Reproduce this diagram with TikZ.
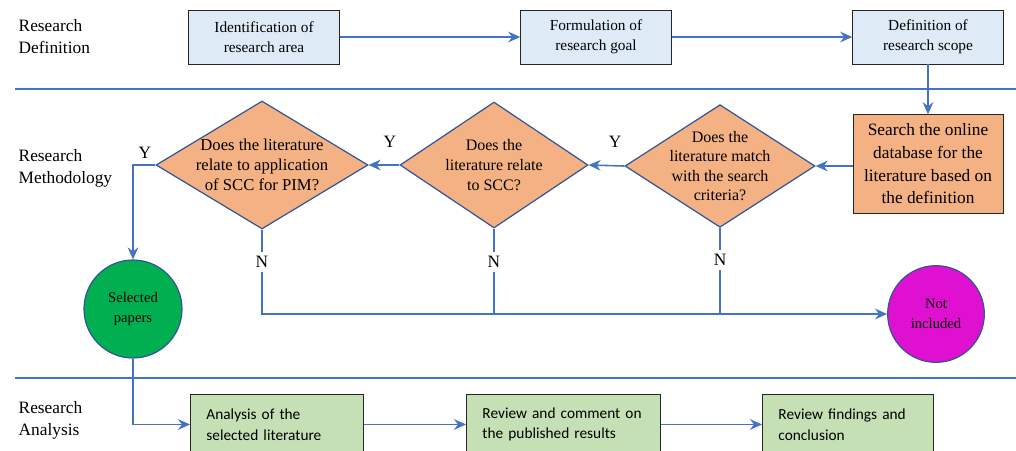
\documentclass[tikz,border=0pt]{standalone}
\usepackage{fontspec}
\setmainfont{Liberation Serif}
\newfontfamily\boxfont{Carlito}
\usetikzlibrary{arrows.meta,shapes.geometric}
\definecolor{defblue}{RGB}{222,235,247}
\definecolor{queryorange}{RGB}{244,177,131}
\definecolor{anagreen}{RGB}{197,224,180}
\definecolor{linkblue}{RGB}{68,114,196}
\definecolor{rimblue}{RGB}{47,85,151}
\definecolor{keepgreen}{RGB}{0,176,80}
\definecolor{dropmagenta}{RGB}{224,16,208}
\begin{document}
\begin{tikzpicture}[x=0.75pt,y=-0.75pt,
    defbox/.style={draw=black!85,fill=defblue,line width=0.7pt,minimum width=113pt,minimum height=40.5pt,align=center,font=\fontsize{11.5}{15}\selectfont},
    anabox/.style={draw=black!85,fill=anagreen,line width=0.7pt,minimum height=45pt,inner xsep=12pt,align=left,font=\boxfont\fontsize{11.5}{15.5}\selectfont},
    query/.style={diamond,draw=rimblue,line width=0.9pt,fill=queryorange,inner sep=0pt},
    endcircle/.style={circle,draw=rimblue,line width=0.9pt,inner sep=0pt,align=center,font=\fontsize{11}{15}\selectfont},
    lane/.style={align=left,font=\fontsize{13}{16.5}\selectfont},
    yn/.style={font=\fontsize{13}{15}\selectfont,inner sep=3pt},
    link/.style={draw=linkblue,line width=1.2pt,-{Stealth[length=9pt,width=8pt,inset=3pt]}},
    wire/.style={draw=linkblue,line width=1.2pt},
    divider/.style={draw=linkblue,line width=0.8pt}]
        \useasboundingbox (0,0) rectangle (1016,450);
        \clip (0,0) rectangle (1016,450);
        \node[lane,anchor=west] (lanedef) at (14,37) {Research\\Definition};
        \node[lane,anchor=west] (lanemeth) at (14,168) {Research\\Methodology};
        \node[lane,anchor=west] (laneana) at (14,420) {Research\\Analysis};
        \draw[divider] (15,89) -- (1016,89);
        \draw[divider] (15,378) -- (1016,378);
        \node[defbox] (area) at (264,37) {Identification of\\research area};
        \node[defbox] (goal) at (596,37) {Formulation of\\research goal};
        \node[defbox] (scope) at (928,37) {Definition of\\research scope};
        \node[draw=black!85,line width=0.7pt,fill=queryorange,minimum width=112.5pt,minimum height=74pt,align=center,font=\fontsize{13}{17}\selectfont] (search) at (928,164) {Search the online\\database for the\\literature based on\\the definition};
        \node[query,minimum width=142.5pt,minimum height=92pt,label={[align=center,font=\fontsize{12}{14.6}\selectfont]center:{Does the\\literature match\\with the search\\criteria?}}] (match) at (720,166) {};
        \node[query,minimum width=141pt,minimum height=94.5pt,label={[align=center,font=\fontsize{12}{15}\selectfont]center:{Does the\\literature relate\\to SCC?}}] (relate) at (494,165) {};
        \node[query,minimum width=159pt,minimum height=96pt,label={[align=center,font=\fontsize{12.5}{15}\selectfont]center:{Does the literature\\relate to application\\of SCC for PIM?}}] (apply) at (262,165) {};
        \node[endcircle,fill=keepgreen,minimum size=73.5pt] (selected) at (133,309) {Selected\\papers};
        \node[endcircle,fill=dropmagenta,minimum size=72.5pt] (excluded) at (936,314) {Not\\included};
        \node[anabox,anchor=north west,text width=105.75pt] (analysis) at (190,394) {Analysis of the\\selected literature};
        \node[anabox,anchor=north west,text width=121.5pt] (review) at (466,394) {Review and comment on\\the published results};
        \node[anabox,anchor=north west,text width=104.25pt] (findings) at (762,394) {Review findings and\\conclusion};
        \draw[link] (area) -- (goal);
        \draw[link] (goal) -- (scope);
        \draw[link] (scope) -- (search);
        \draw[link] (search.west |- match) -- (match.east);
        \draw[link] (match.west) -- (relate.east);
        \draw[link] (relate.west) -- (apply.east);
        \draw[link] (apply.west) -| (selected.north);
        \draw[link] (selected.south) |- (analysis.west);
        \draw[link] (analysis) -- (review);
        \draw[link] (review.east |- findings) -- (findings.west);
        \draw[link] (apply.south) |- (excluded.west);
        \draw[wire] (relate.south) -- (relate.south |- excluded.west);
        \draw[wire] (match.south) -- (match.south |- excluded.west);
        \node[yn] (yapply) at (145,153) {Y};
        \node[yn] (yrelate) at (390,142) {Y};
        \node[yn] (ymatch) at (615,142) {Y};
        \node[yn,fill=white] (napply) at (262,262) {N};
        \node[yn,fill=white] (nrelate) at (494,262) {N};
        \node[yn,fill=white] (nmatch) at (720,260) {N};
      \end{tikzpicture}
\end{document}
